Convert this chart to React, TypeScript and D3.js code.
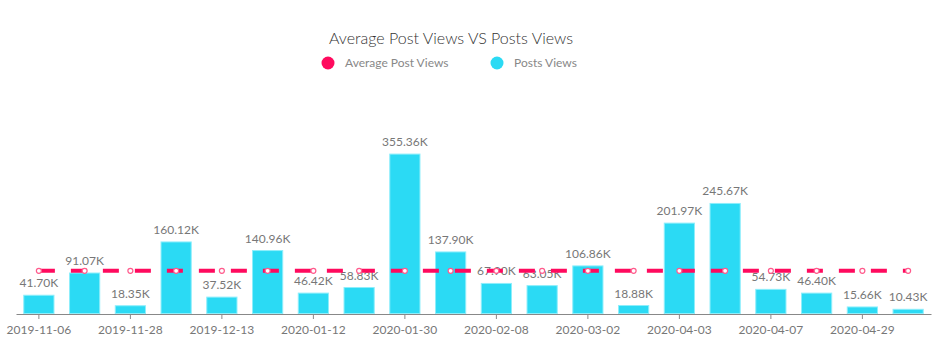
import React, { useEffect, useRef } from 'react';
import * as d3 from 'd3';

// categories (only every other one is labelled on the axis)
const dates = [
  '2019-11-06', '2019-11-20', '2019-11-28', '2019-12-05', '2019-12-13',
  '2019-12-28', '2020-01-12', '2020-01-20', '2020-01-30', '2020-02-03',
  '2020-02-08', '2020-02-20', '2020-03-02', '2020-03-15', '2020-04-03',
  '2020-04-05', '2020-04-07', '2020-04-15', '2020-04-29', '2020-05-05',
];
const postsViews = [
  41700, 91070, 18350, 160120, 37520, 140960, 46420, 58830, 355360, 137900,
  67900, 63050, 106860, 18880, 201970, 245670, 54730, 46400, 15660, 10430,
];
const averageViews = [
  95990, 95990, 95990, 95990, 95990, 95990, 95990, 95990, 95990, 95990,
  95990, 95990, 95990, 95990, 95990, 95990, 95990, 95990, 95990, 95990,
];
const seriesNames = ['Average Post Views', 'Posts Views'];

const W = 941;
const H = 363;
const PINK = '#ff0a5e';
const CYAN = '#2bdaf4';
const FONT = 'Lato, "Open Sans", sans-serif';

const fmt = (v: number) => (v / 1000).toFixed(2) + 'K';

const App = () => {
  const svgRef = useRef<SVGSVGElement>(null);

  useEffect(() => {
    const svg = d3.select(svgRef.current);
    svg.selectAll('*').remove();
    const margin = { top: 134, right: 10, bottom: 49, left: 16 };

    const x = d3.scaleBand().domain(dates).range([margin.left, W - margin.right]).paddingInner(0.34).paddingOuter(0.17);
    const y = d3.scaleLinear().domain([0, 400000]).range([H - margin.bottom, margin.top]);
    const cx = (d: string) => (x(d) as number) + x.bandwidth() / 2;

    // title
    svg.append('text')
      .attr('x', 451).attr('y', 44)
      .attr('text-anchor', 'middle')
      .style('font-family', FONT).style('font-size', '16px').style('font-weight', 300).attr('fill', '#333')
      .text('Average Post Views VS Posts Views');

    // legend
    const legendX = [328, 497];
    const legendColors = [PINK, CYAN];
    seriesNames.forEach((name, i) => {
      svg.append('circle').attr('cx', legendX[i]).attr('cy', 63).attr('r', 6.5).attr('fill', legendColors[i]);
      svg.append('text')
        .attr('x', legendX[i] + 17).attr('y', 67)
        .style('font-family', FONT).style('font-size', '12px').attr('fill', '#888')
        .text(name);
    });

    // x axis
    const xAxis = d3.axisBottom(x)
      .tickValues(dates.filter((_, i) => i % 2 === 0))
      .tickSize(5).tickSizeOuter(0).tickPadding(6);
    const gx = svg.append('g').attr('transform', `translate(0,${H - margin.bottom})`).call(xAxis);
    gx.select('.domain').attr('stroke', '#888');
    gx.selectAll('.tick line').attr('stroke', '#888');
    gx.selectAll('.tick text').attr('fill', '#777').style('font-family', FONT).style('font-size', '12px');

    // bars
    svg.selectAll('.bar')
      .data(postsViews)
      .enter()
      .append('rect')
      .attr('class', 'bar')
      .attr('x', (_, i) => x(dates[i]) as number)
      .attr('y', d => y(d))
      .attr('width', x.bandwidth())
      .attr('height', d => y(0) - y(d) - 0.5)
      .attr('fill', CYAN)
      .attr('stroke', '#8deefb')
      .attr('stroke-width', 1);

    // bar value labels
    svg.selectAll('.lbl')
      .data(postsViews)
      .enter()
      .append('text')
      .attr('class', 'lbl')
      .attr('x', (_, i) => cx(dates[i]))
      .attr('y', d => y(d) - 8)
      .attr('text-anchor', 'middle')
      .style('font-family', FONT).style('font-size', '12px').attr('fill', '#777')
      .text(d => fmt(d));

    // average line
    const line = d3.line<number>().x((_, i) => cx(dates[i])).y(d => y(d));
    svg.append('path')
      .datum(averageViews)
      .attr('d', line)
      .attr('fill', 'none')
      .attr('stroke', PINK)
      .attr('stroke-width', 4)
      .attr('stroke-dasharray', '16,16');

    svg.selectAll('.pt')
      .data(averageViews)
      .enter()
      .append('circle')
      .attr('class', 'pt')
      .attr('cx', (_, i) => cx(dates[i]))
      .attr('cy', d => y(d))
      .attr('r', 2.5)
      .attr('fill', '#fff')
      .attr('stroke', '#ff5a8c')
      .attr('stroke-width', 1.2);
  }, []);

  return (
    <svg ref={svgRef} width={W} height={H} style={{ position: 'absolute', left: 0, top: 0, background: '#fff' }} />
  );
};

export default App;
